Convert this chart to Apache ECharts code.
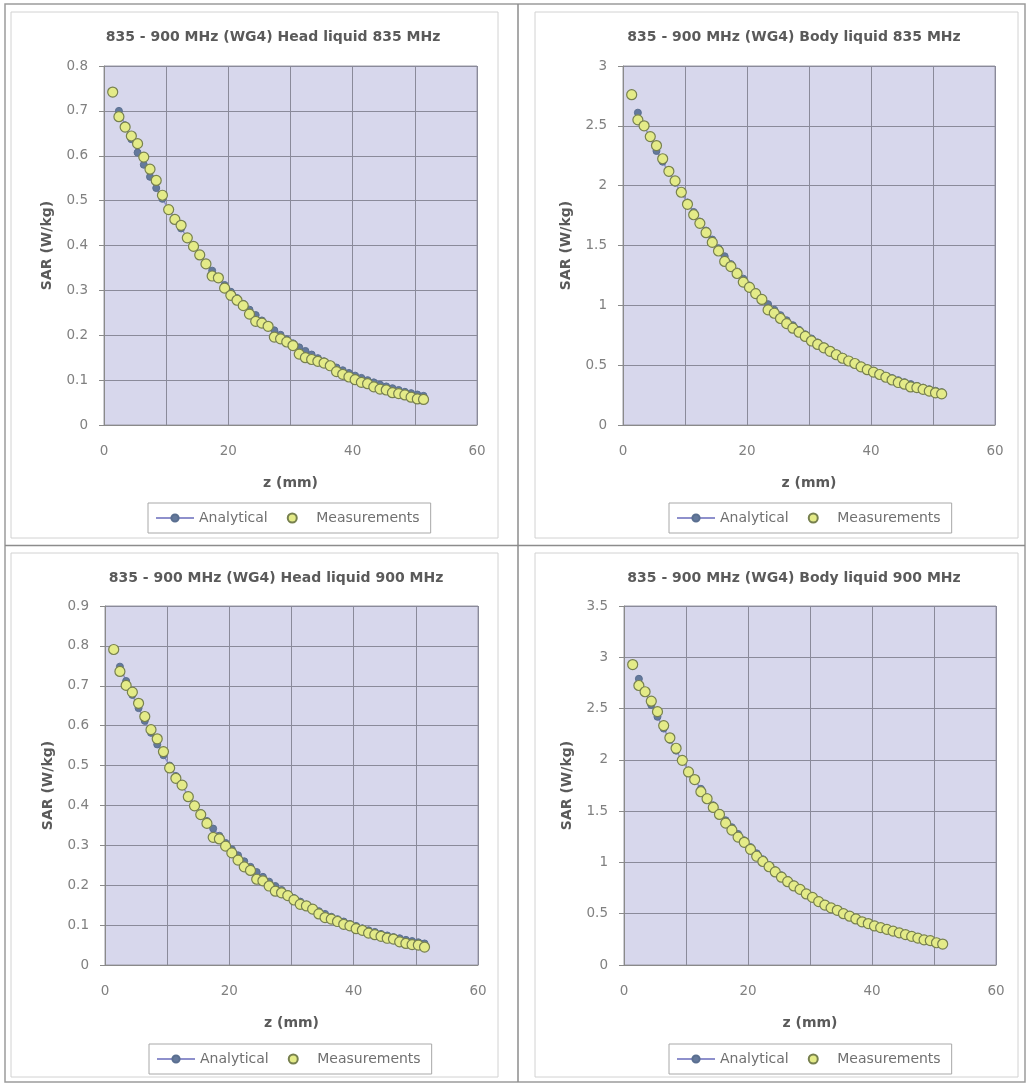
<!DOCTYPE html>
<html>
<head>
<meta charset="utf-8">
<script src="https://cdn.jsdelivr.net/npm/echarts@6/dist/echarts.min.js"></script>
<style>
html,body{margin:0;padding:0;background:#fff;}
#chart{width:1028px;height:1084px;}
</style>
</head>
<body>
<div id="chart"></div>
<script>
// ---------- data ----------
const titles = [
  '835 - 900 MHz (WG4) Head liquid 835 MHz',
  '835 - 900 MHz (WG4) Body liquid 835 MHz',
  '835 - 900 MHz (WG4) Head liquid 900 MHz',
  '835 - 900 MHz (WG4) Body liquid 900 MHz'
];
const seriesNames = ['Analytical', 'Measurements'];
const xAxisName = 'z (mm)';
const yAxisName = 'SAR (W/kg)';
const yMax = [0.8, 3, 0.9, 3.5];
const yStep = [0.1, 0.5, 0.1, 0.5];
const xTickLabels = [0, 20, 40, 60];

const zMeas = [1.4,2.4,3.4,4.4,5.4,6.4,7.4,8.4,9.4,10.4,11.4,12.4,13.4,14.4,15.4,16.4,17.4,18.4,19.4,20.4,
  21.4,22.4,23.4,24.4,25.4,26.4,27.4,28.4,29.4,30.4,31.4,32.4,33.4,34.4,35.4,36.4,37.4,38.4,39.4,40.4,
  41.4,42.4,43.4,44.4,45.4,46.4,47.4,48.4,49.4,50.4,51.4];
const zAnal = [2.4,3.4,4.4,5.4,6.4,7.4,8.4,9.4,10.4,11.4,12.4,13.4,14.4,15.4,16.4,17.4,18.4,19.4,20.4,
  21.4,22.4,23.4,24.4,25.4,26.4,27.4,28.4,29.4,30.4,31.4,32.4,33.4,34.4,35.4,36.4,37.4,38.4,39.4,40.4,
  41.4,42.4,43.4,44.4,45.4,46.4,47.4,48.4,49.4,50.4,51.4];

const headMeas835 = [0.742,0.687,0.664,0.644,0.627,0.597,0.570,0.545,0.512,0.480,0.458,0.445,0.417,0.398,0.379,0.359,0.332,0.328,0.305,0.289,
  0.278,0.266,0.247,0.231,0.227,0.220,0.196,0.192,0.185,0.177,0.158,0.150,0.146,0.142,0.138,0.132,0.119,0.113,0.107,0.101,
  0.095,0.092,0.085,0.080,0.078,0.072,0.070,0.067,0.062,0.058,0.057];
const headAnal835 = [0.700,0.668,0.637,0.607,0.580,0.553,0.528,0.504,0.481,0.459,0.438,0.418,0.398,0.379,0.361,0.344,0.328,0.312,0.297,
  0.283,0.270,0.257,0.245,0.233,0.222,0.211,0.201,0.191,0.182,0.173,0.165,0.157,0.149,0.142,0.135,0.128,0.122,0.116,0.110,
  0.105,0.100,0.095,0.090,0.086,0.082,0.078,0.074,0.071,0.068,0.065];

const bodyMeas835 = [2.76,2.55,2.50,2.41,2.335,2.225,2.12,2.04,1.945,1.844,1.757,1.685,1.607,1.526,1.454,1.367,1.324,1.266,1.194,1.150,
  1.098,1.049,0.962,0.934,0.890,0.847,0.809,0.775,0.740,0.702,0.673,0.645,0.616,0.587,0.558,0.535,0.514,0.486,0.462,0.442,
  0.422,0.399,0.376,0.355,0.341,0.318,0.312,0.298,0.283,0.269,0.260];
const bodyAnal835 = [2.610,2.500,2.400,2.290,2.200,2.110,2.025,1.940,1.860,1.780,1.700,1.625,1.550,1.478,1.410,1.345,1.283,1.223,1.166,
  1.112,1.060,1.010,0.963,0.918,0.875,0.834,0.795,0.758,0.723,0.690,0.658,0.628,0.599,0.571,0.545,0.520,0.496,0.473,0.452,
  0.431,0.412,0.393,0.375,0.358,0.342,0.327,0.312,0.299,0.286,0.274];

const headMeas900 = [0.791,0.736,0.701,0.684,0.656,0.623,0.590,0.567,0.535,0.494,0.468,0.451,0.422,0.399,0.377,0.355,0.320,0.316,0.298,0.281,
  0.263,0.246,0.237,0.215,0.211,0.198,0.185,0.181,0.174,0.163,0.152,0.148,0.140,0.128,0.119,0.115,0.109,0.102,0.098,0.091,
  0.087,0.080,0.076,0.072,0.067,0.065,0.058,0.054,0.051,0.050,0.045];
const headAnal900 = [0.748,0.712,0.677,0.644,0.612,0.582,0.553,0.526,0.500,0.474,0.449,0.425,0.402,0.381,0.361,0.342,0.324,0.306,0.290,
  0.275,0.260,0.246,0.233,0.221,0.209,0.198,0.188,0.178,0.168,0.159,0.151,0.143,0.135,0.128,0.121,0.115,0.109,0.103,0.098,
  0.092,0.087,0.083,0.078,0.074,0.070,0.067,0.063,0.060,0.057,0.054];

const bodyMeas900 = [2.929,2.725,2.664,2.572,2.470,2.334,2.215,2.113,1.995,1.882,1.808,1.689,1.621,1.536,1.468,1.383,1.315,1.247,1.196,1.128,
  1.060,1.009,0.958,0.907,0.856,0.812,0.771,0.737,0.693,0.659,0.618,0.584,0.557,0.533,0.500,0.476,0.449,0.421,0.404,0.381,
  0.364,0.347,0.330,0.313,0.296,0.279,0.262,0.245,0.238,0.217,0.204];
const bodyAnal900 = [2.790,2.660,2.535,2.420,2.305,2.195,2.090,1.990,1.895,1.805,1.718,1.636,1.557,1.482,1.411,1.343,1.278,1.216,1.150,
  1.089,1.031,0.976,0.924,0.875,0.829,0.785,0.743,0.704,0.666,0.631,0.597,0.566,0.536,0.507,0.480,0.455,0.431,0.408,0.386,
  0.366,0.346,0.328,0.311,0.294,0.279,0.264,0.250,0.237,0.224,0.212];

const analSets = [headAnal835, bodyAnal835, headAnal900, bodyAnal900];
const measSets = [headMeas835, bodyMeas835, headMeas900, bodyMeas900];

// ---------- layout ----------
const FONT = 'DejaVu Sans';
const grids = [
  {left: 104, top: 66, width: 373, height: 359},
  {left: 623, top: 66, width: 372, height: 359},
  {left: 105, top: 606, width: 373, height: 359},
  {left: 624, top: 606, width: 372, height: 359}
];
const titleCenters = [[273, 38], [794, 38], [276, 579], [794, 579]];
const legendPos = [[148, 503], [669, 503], [149, 1044], [669, 1044]];

const pair = (xs, ys) => ys.map((v, i) => [xs[i], v]);

const option = {
  backgroundColor: '#ffffff',
  animation: false,
  title: titles.map((t, i) => ({
    text: t, left: titleCenters[i][0], top: titleCenters[i][1] - 8, textAlign: 'center', padding: 0,
    textStyle: {fontFamily: FONT, fontSize: 14, fontWeight: 'bold', color: '#5a5a5a'}
  })),
  legend: legendPos.map((p, i) => ({
    data: seriesNames, left: p[0], top: p[1], orient: 'horizontal',
    padding: [8, 11, 8, 7], itemGap: 19, itemWidth: 38, itemHeight: 9,
    borderColor: '#a8a8a8', borderWidth: 1, backgroundColor: '#ffffff',
    selectedMode: false,
    textStyle: {fontFamily: FONT, fontSize: 14, color: '#707070'}
  })),
  grid: grids.map(g => Object.assign({
    show: true, backgroundColor: '#d7d7ec', borderColor: '#9a9aa6', borderWidth: 1, containLabel: false
  }, g)),
  xAxis: grids.map((g, i) => ({
    type: 'value', gridIndex: i, min: 0, max: 60, interval: 10,
    name: xAxisName, nameLocation: 'middle', nameGap: 51,
    nameTextStyle: {fontFamily: FONT, fontSize: 14, fontWeight: 'bold', color: '#5a5a5a'},
    axisLine: {show: true, lineStyle: {color: '#8a8a8a'}},
    axisTick: {show: false},
    axisLabel: {
      margin: 19, fontFamily: FONT, fontSize: 13.5, color: '#808080',
      formatter: v => (xTickLabels.indexOf(v) >= 0 ? String(v) : '')
    },
    splitLine: {show: true, lineStyle: {color: '#8a8a9a', width: 1}}
  })),
  yAxis: grids.map((g, i) => ({
    type: 'value', gridIndex: i, min: 0, max: yMax[i], interval: yStep[i],
    name: yAxisName, nameLocation: 'middle', nameGap: 50, nameRotate: 90,
    nameTextStyle: {fontFamily: FONT, fontSize: 14, fontWeight: 'bold', color: '#5a5a5a'},
    axisLine: {show: true, lineStyle: {color: '#8a8a8a'}},
    axisTick: {show: true, inside: false, length: 5, lineStyle: {color: '#8a8a8a'}},
    axisLabel: {margin: 16, fontFamily: FONT, fontSize: 13.5, color: '#808080'},
    splitLine: {show: true, lineStyle: {color: '#8a8a9a', width: 1}}
  })),
  series: [],
  graphic: [
    {type: 'rect', shape: {x: 5, y: 4, width: 1020, height: 1078}, style: {fill: 'none', stroke: '#9c9c9c', lineWidth: 1.5}, silent: true},
    {type: 'line', shape: {x1: 518, y1: 4, x2: 518, y2: 1082}, style: {stroke: '#8c8c8c', lineWidth: 1.5}, silent: true},
    {type: 'line', shape: {x1: 5, y1: 545.5, x2: 1025, y2: 545.5}, style: {stroke: '#8c8c8c', lineWidth: 1.5}, silent: true},
    {type: 'rect', shape: {x: 11, y: 12, width: 487, height: 526}, style: {fill: 'none', stroke: '#d2d2d2', lineWidth: 1}, silent: true},
    {type: 'rect', shape: {x: 535, y: 12, width: 483, height: 526}, style: {fill: 'none', stroke: '#d2d2d2', lineWidth: 1}, silent: true},
    {type: 'rect', shape: {x: 11, y: 553, width: 487, height: 524}, style: {fill: 'none', stroke: '#d2d2d2', lineWidth: 1}, silent: true},
    {type: 'rect', shape: {x: 535, y: 553, width: 483, height: 524}, style: {fill: 'none', stroke: '#d2d2d2', lineWidth: 1}, silent: true}
  ]
};

for (let i = 0; i < 4; i++) {
  option.series.push({
    name: seriesNames[0], type: 'line', xAxisIndex: i, yAxisIndex: i, z: 2,
    data: pair(zAnal, analSets[i]),
    symbol: 'circle', symbolSize: 7, showSymbol: true,
    lineStyle: {color: '#8e90cc', width: 1.5},
    itemStyle: {color: '#64799c', borderColor: '#5a6f90', borderWidth: 1}
  });
}
for (let i = 0; i < 4; i++) {
  option.series.push({
    name: seriesNames[1], type: 'scatter', xAxisIndex: i, yAxisIndex: i, z: 5,
    data: pair(zMeas, measSets[i]),
    symbol: 'circle', symbolSize: 10,
    itemStyle: {color: '#e4eb88', borderColor: '#77804f', borderWidth: 1.2, opacity: 1}
  });
}

const chart = echarts.init(document.getElementById('chart'), null, {renderer: 'canvas'});
chart.setOption(option);
</script>
</body>
</html>
